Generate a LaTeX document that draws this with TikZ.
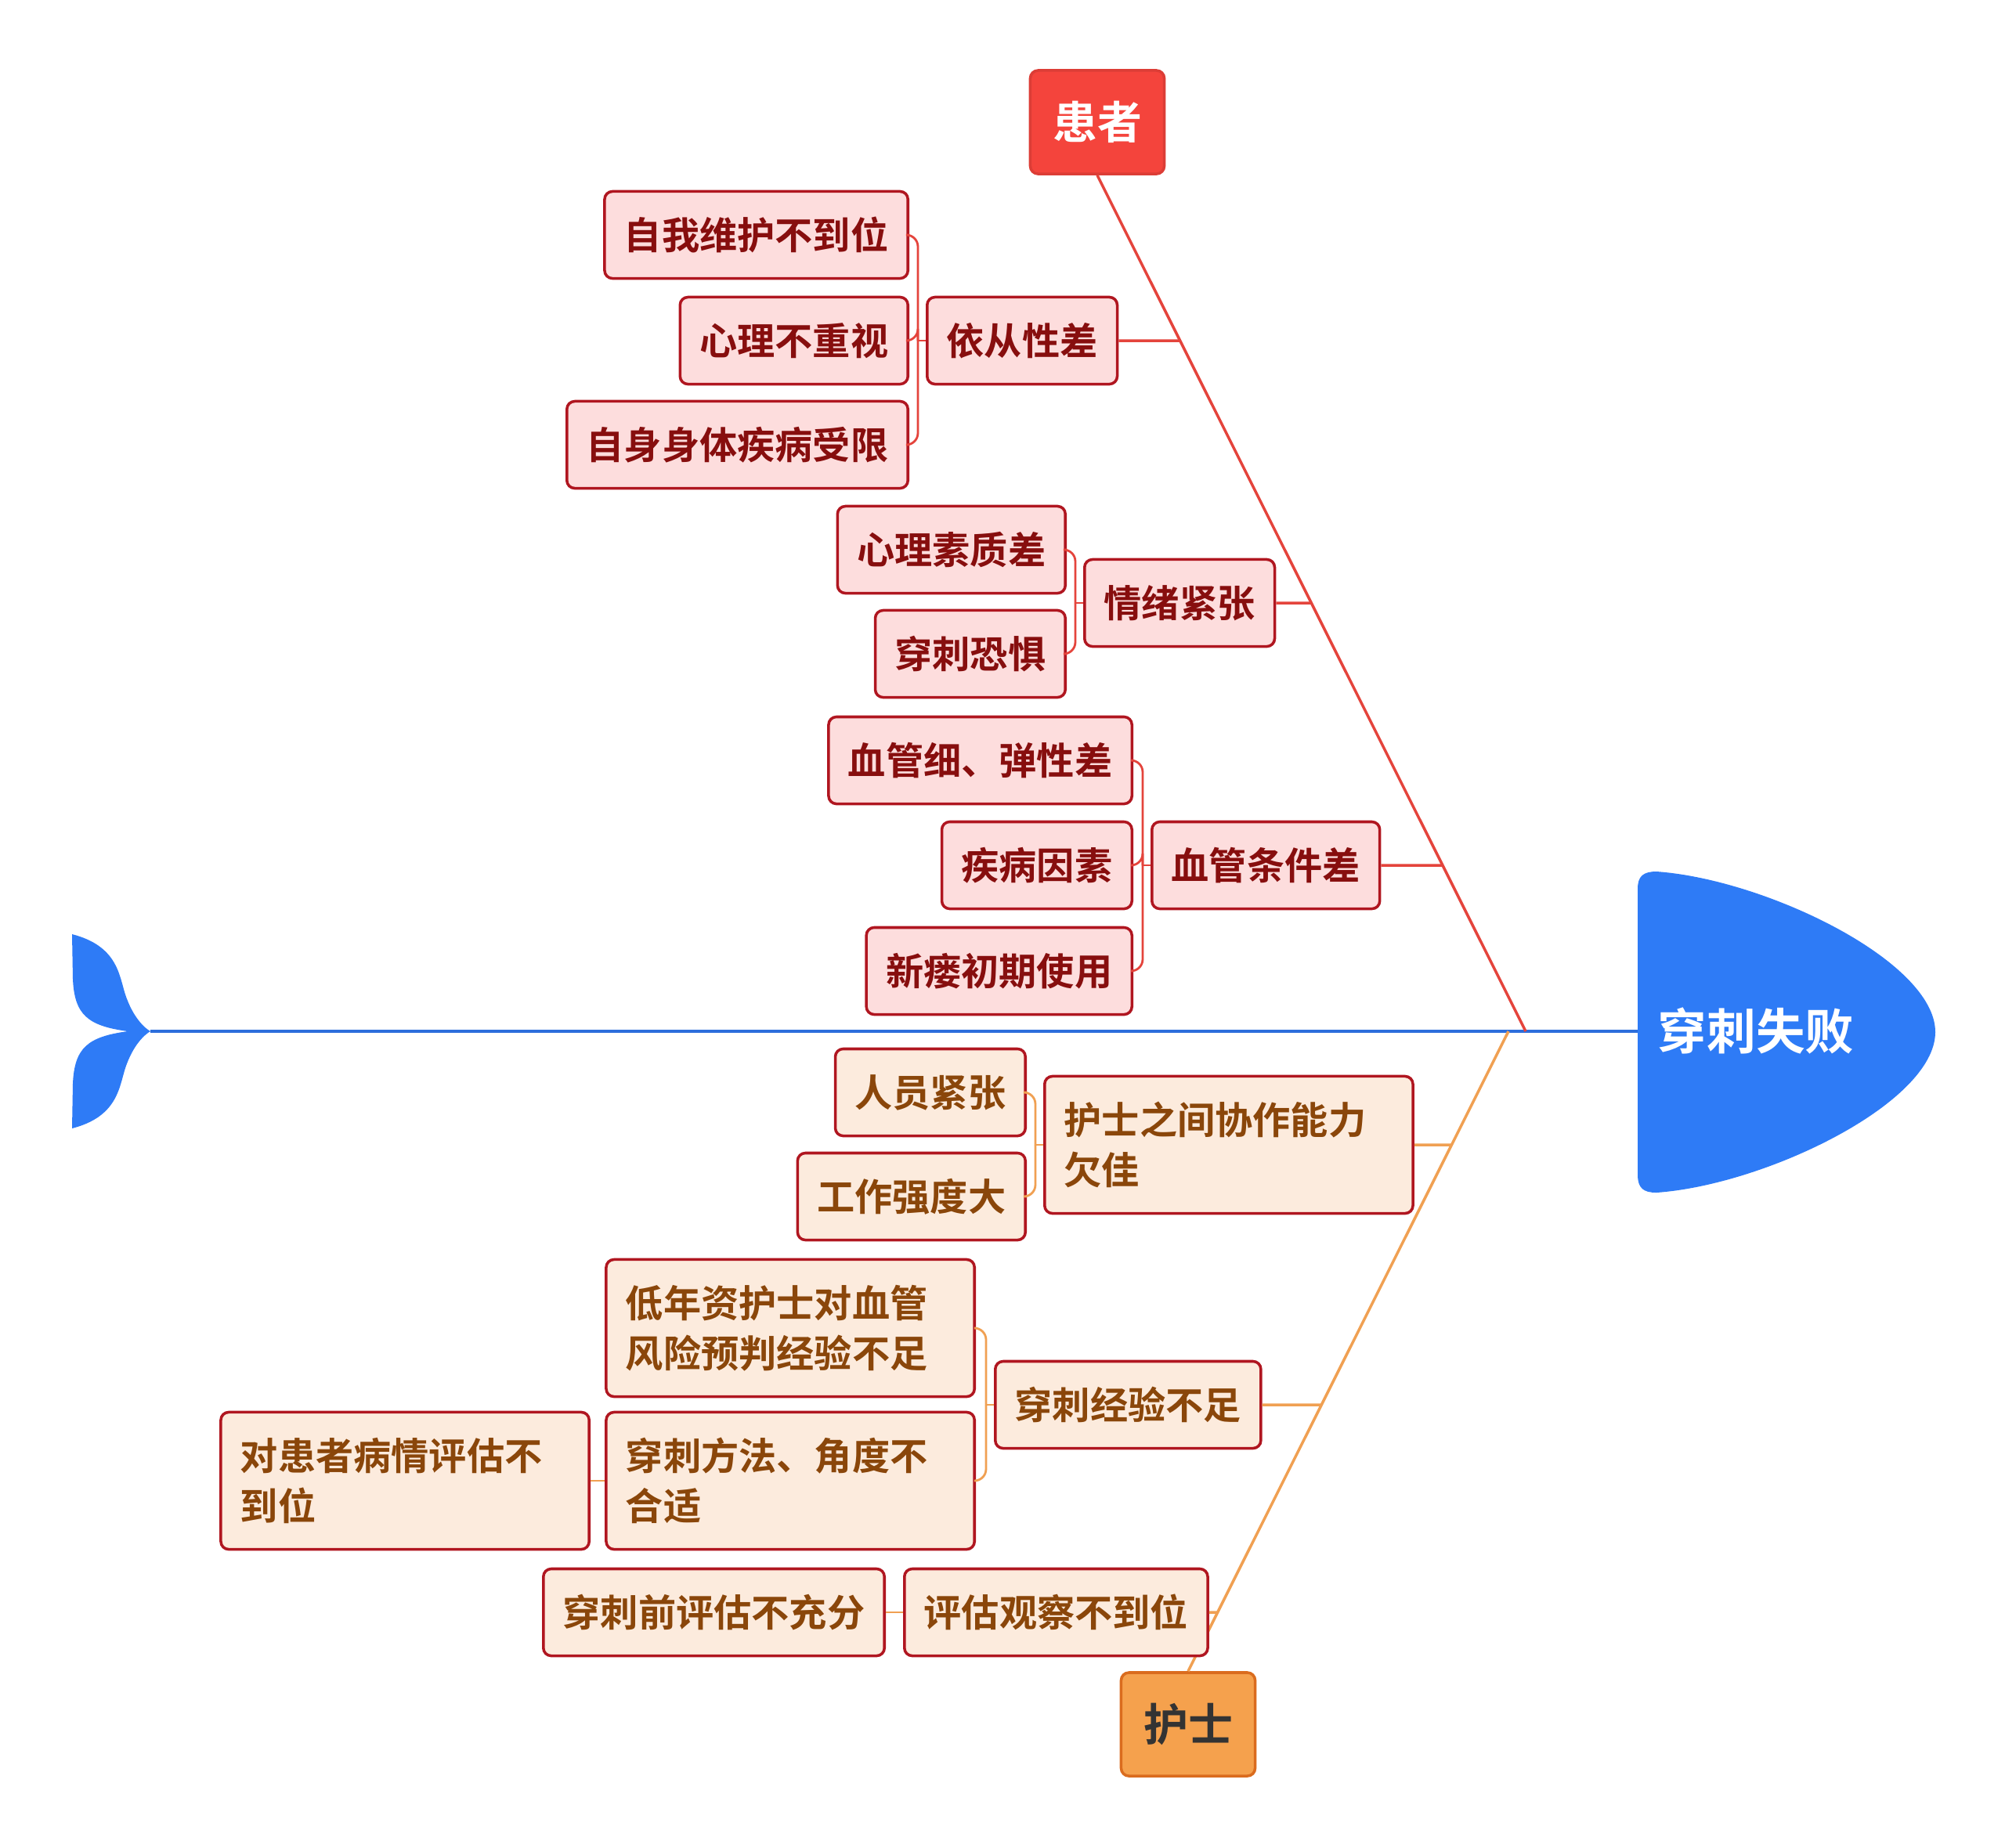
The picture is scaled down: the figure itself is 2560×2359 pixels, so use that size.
\documentclass[tikz,border=0pt]{standalone}
\usepackage{fontspec}
\setmainfont{Noto Sans CJK SC}[BoldFont={* Bold}]

\definecolor{fishblue}{RGB}{46,123,246}
\definecolor{spineblue}{RGB}{44,110,220}
\definecolor{pred}{RGB}{244,68,60}
\definecolor{pline}{RGB}{228,68,60}
\definecolor{pfill}{RGB}{253,221,221}
\definecolor{ptext}{RGB}{135,14,14}
\definecolor{boxline}{RGB}{176,22,32}
\definecolor{nfill}{RGB}{252,235,221}
\definecolor{ntext}{RGB}{138,70,10}
\definecolor{nline}{RGB}{240,160,82}
\definecolor{norange}{RGB}{245,161,77}
\definecolor{nborder}{RGB}{218,108,30}

\begin{document}
\begin{tikzpicture}[x=0.01cm,y=-0.01cm,
  boxfont/.style={font=\fontsize{13.7}{18.2}\selectfont\bfseries},
  pbox/.style={boxfont, draw=boxline, fill=pfill, text=ptext, line width=1pt,
    rounded corners=0.1cm, minimum height=1.11cm, inner xsep=0.25cm},
  nbox/.style={pbox, fill=nfill, text=ntext},
  wide/.style={text width=4.2cm, align=left, minimum height=1.75cm},
  pmain/.style={fill=pred, draw=pred!90!black, text=white, line width=1pt,
    rounded corners=0.1cm, minimum width=1.71cm, minimum height=1.32cm,
    font=\fontsize{16.2}{20}\selectfont\bfseries},
  nmain/.style={pmain, fill=norange, draw=nborder, text=black!80},
  pbone/.style={draw=pline, line width=1pt},
  nbone/.style={draw=nline, line width=1pt},
  plink/.style={draw=pline, line width=0.8pt, rounded corners=0.15cm},
  nlink/.style={draw=nline, line width=0.8pt, rounded corners=0.15cm}]
\useasboundingbox (0,0) rectangle (2560,2359);

% spine, tail and head
\coordinate (tailjoin) at (192,1317);
\coordinate (headjoin) at (2091,1317);
\draw[spineblue, line width=1.2pt] (tailjoin) -- (headjoin);
\fill[fishblue] (92,1193) .. controls (150,1208) and (152,1245) .. (160,1270)
  .. controls (170,1300) and (185,1313) .. (tailjoin) -- (163,1317)
  .. controls (112,1310) and (95,1296) .. (93,1250) -- cycle;
\fill[fishblue] (92,1441) .. controls (150,1426) and (152,1389) .. (160,1364)
  .. controls (170,1334) and (185,1321) .. (tailjoin) -- (163,1317)
  .. controls (112,1324) and (95,1338) .. (93,1384) -- cycle;
\fill[fishblue] (2091,1135) .. controls (2091,1119) and (2098,1113) .. (2115,1113)
  .. controls (2255,1123) and (2471,1228) .. (2471,1318)
  .. controls (2471,1408) and (2255,1513) .. (2115,1523)
  .. controls (2098,1523) and (2091,1517) .. (2091,1500) -- cycle;
\node[text=white, font=\fontsize{17.8}{22}\selectfont\bfseries] (head) at (2242,1316) {穿刺失败};

% patient side
\node[pmain] (pz) at (1401,156) {患者};
\coordinate (pend) at (1948,1317);
\draw[pbone] (pz.south) -- (pend);

\node[pbox, anchor=west] (yc) at (1182,435) {依从性差};
\node[pbox, anchor=east] (yc1) at (1161,300) {自我维护不到位};
\node[pbox, anchor=east] (yc2) at (1161,435) {心理不重视};
\node[pbox, anchor=east] (yc3) at (1161,568) {自身身体疾病受限};

\node[pbox, anchor=west] (qx) at (1383,770) {情绪紧张};
\node[pbox, anchor=east] (qx1) at (1362,702) {心理素质差};
\node[pbox, anchor=east] (qx2) at (1362,835) {穿刺恐惧};

\node[pbox, anchor=west] (xg) at (1469,1105) {血管条件差};
\node[pbox, anchor=east] (xg1) at (1447,971) {血管细、弹性差};
\node[pbox, anchor=east] (xg2) at (1447,1105) {疾病因素};
\node[pbox, anchor=east] (xg3) at (1447,1240) {新瘘初期使用};

\foreach \b in {yc,qx,xg}{
  \draw[pbone] (\b.east) -- (intersection of pz.south--pend and \b.east--pend|-\b.east);
  \draw[plink] (\b.west) -- ([xshift=-0.1cm]\b.west);
}
\foreach \c in {yc1,yc2,yc3}
  \draw[plink] (\c.east) -| ([xshift=-0.1cm]yc.west);
\foreach \c in {qx1,qx2}
  \draw[plink] (\c.east) -| ([xshift=-0.1cm]qx.west);
\foreach \c in {xg1,xg2,xg3}
  \draw[plink] (\c.east) -| ([xshift=-0.1cm]xg.west);

% nurse side
\node[nmain] (hs) at (1517,2202) {护士};
\coordinate (nend) at (1926,1317);
\draw[nbone] (hs.north) -- (nend);

\node[nbox, wide, anchor=west] (hz) at (1332,1462) {护士之间协作能力\\欠佳};
\node[nbox, anchor=east] (hz1) at (1311,1395) {人员紧张};
\node[nbox, anchor=east] (hz2) at (1311,1528) {工作强度大};

\node[nbox, anchor=west] (jy) at (1269,1794) {穿刺经验不足};
\node[nbox, wide, anchor=east] (jy1) at (1246,1696) {低年资护士对血管\\风险预判经验不足};
\node[nbox, wide, anchor=east] (jy2) at (1246,1891) {穿刺方法、角度不\\合适};
\node[nbox, wide, anchor=east] (jy21) at (754,1891) {对患者病情评估不\\到位};

\node[nbox, anchor=west] (pg) at (1153,2059) {评估观察不到位};
\node[nbox, anchor=east] (pg1) at (1131,2059) {穿刺前评估不充分};

\foreach \b in {hz,jy}{
  \draw[nbone] (\b.east) -- (intersection of hs.north--nend and \b.east--nend|-\b.east);
  \draw[nlink] (\b.west) -- ([xshift=-0.1cm]\b.west);
}
\draw[nbone] (pg.east) -- (intersection of hs.north--nend and pg.east--nend|-pg.east);
\foreach \c in {hz1,hz2}
  \draw[nlink] (\c.east) -| ([xshift=-0.1cm]hz.west);
\foreach \c in {jy1,jy2}
  \draw[nlink] (\c.east) -| ([xshift=-0.1cm]jy.west);
\draw[nlink] (jy21.east) -- (jy2.west);
\draw[nlink] (pg1.east) -- (pg.west);
\end{tikzpicture}
\end{document}
